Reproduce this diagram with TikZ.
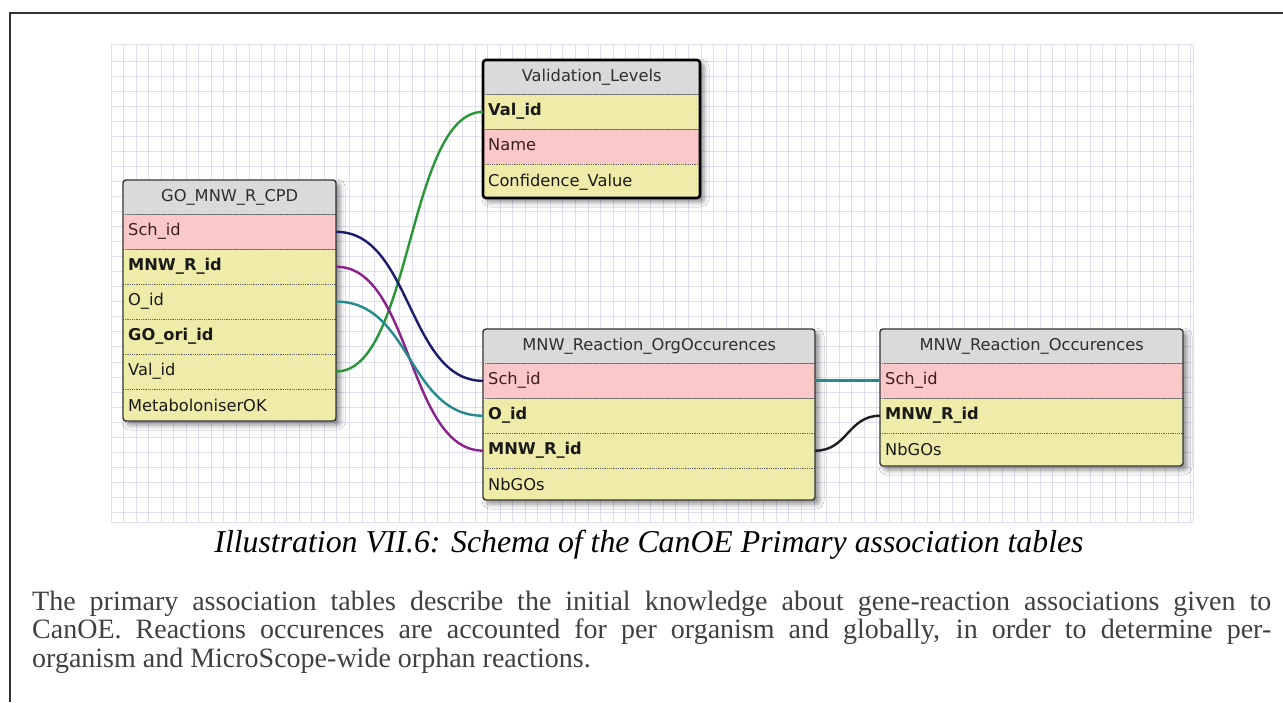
\documentclass[tikz,border=0pt]{standalone}
\usepackage{fontspec}
\setmainfont{Liberation Serif}
\newfontfamily\tblfont{DejaVu Sans}
\usetikzlibrary{shadows.blur}

\definecolor{gridline}{RGB}{222,222,240}
\definecolor{hdrgray}{RGB}{218,218,218}
\definecolor{keypink}{RGB}{250,200,200}
\definecolor{colyellow}{RGB}{238,236,168}
\definecolor{boxedge}{RGB}{55,55,55}
\definecolor{lnnavy}{RGB}{28,28,110}
\definecolor{lnpurple}{RGB}{138,32,140}
\definecolor{lnteal}{RGB}{36,138,140}
\definecolor{lngreen}{RGB}{40,150,52}
\definecolor{lnblack}{RGB}{30,30,30}
\definecolor{bodygray}{RGB}{64,64,64}
\definecolor{pinktext}{RGB}{60,30,30}
\definecolor{framegray}{RGB}{50,50,50}

\tikzset{
  x=1pt, y=-1pt,
  cell/.style={rectangle, anchor=north west, inner xsep=5pt, inner ysep=0pt,
    text height=12pt, text depth=4pt, minimum height=34.5pt, align=left,
    font=\tblfont\fontsize{16.25}{19}\selectfont, text=black!90},
  hdr/.style={cell, fill=hdrgray, align=center, minimum height=34pt, text=black!82},
  pk/.style={cell, fill=keypink, text=pinktext},
  fld/.style={cell, fill=colyellow},
  key/.style={fld, font=\tblfont\bfseries\fontsize{16.25}{19}\selectfont},
  divider/.style={densely dotted, line width=0.8pt, black!60},
  tblframe/.style={draw=boxedge, line width=1.4pt, rounded corners=3pt},
  selframe/.style={draw=black, line width=2.6pt, rounded corners=3pt},
  tblshadow/.style={blur shadow={shadow xshift=4pt, shadow yshift=-4pt,
    shadow blur radius=5pt, shadow opacity=45}, rounded corners=3pt},
  link/.style={line width=2.4pt},
  gridln/.style={gridline, line width=1pt},
}

\begin{document}
\begin{tikzpicture}
\useasboundingbox (0,0) rectangle (1283,702);
\fill[white] (0,0) rectangle (1283,702);

% page frame
\draw[framegray, line width=2.4pt] (1283,13) -- (10,13) -- (10,702);

% background grid
\foreach \i in {0,...,86}
  \draw[gridln] ({111+12.555*\i},44) -- ({111+12.555*\i},522);
\foreach \j in {0,...,30}
  \draw[gridln] (111,{61+15.05*\j}) -- (1193,{61+15.05*\j});
\draw[gridln] (111,44) rectangle (1193,522);

% ---- GO_MNW_R_CPD ----
\path[tblshadow] (123,180) rectangle (336,421);
\begin{scope}
  \clip[rounded corners=3pt] (123,180) rectangle (336,421);
  \node[hdr, text width=203pt] (go) at (123,180) {GO\_MNW\_R\_CPD};
  \node[pk,  text width=203pt] (go-sch) at (go.south west) {Sch\_id};
  \node[key, text width=203pt] (go-mnw) at (go-sch.south west) {MNW\_R\_id};
  \node[fld, text width=203pt] (go-o) at (go-mnw.south west) {O\_id};
  \node[key, text width=203pt] (go-ori) at (go-o.south west) {GO\_ori\_id};
  \node[fld, text width=203pt] (go-val) at (go-ori.south west) {Val\_id};
  \node[fld, text width=203pt, minimum height=36pt] (go-met) at (go-val.south west) {MetaboloniserOK};
\end{scope}
\foreach \r in {go,go-sch,go-mnw,go-o,go-ori,go-val}
  \draw[divider] (\r.south west) -- (\r.south east);
\draw[tblframe] (123,180) rectangle (336,421);

% ---- Validation_Levels ----
\path[tblshadow] (483,60) rectangle (700,198);
\begin{scope}
  \clip[rounded corners=3pt] (483,60) rectangle (700,198);
  \node[hdr, text width=207pt] (vl) at (483,60) {Validation\_Levels};
  \node[key, text width=207pt] (vl-val) at (vl.south west) {Val\_id};
  \node[pk,  text width=207pt] (vl-name) at (vl-val.south west) {Name};
  \node[fld, text width=207pt, minimum height=36pt] (vl-conf) at (vl-name.south west) {Confidence\_Value};
\end{scope}
\foreach \r in {vl,vl-val,vl-name}
  \draw[divider] (\r.south west) -- (\r.south east);
\draw[selframe] (483,60) rectangle (700,198);

% ---- MNW_Reaction_OrgOccurences ----
\path[tblshadow] (483,329) rectangle (815,500);
\begin{scope}
  \clip[rounded corners=3pt] (483,329) rectangle (815,500);
  \node[hdr, text width=322pt] (org) at (483,329) {MNW\_Reaction\_OrgOccurences};
  \node[pk,  text width=322pt] (org-sch) at (org.south west) {Sch\_id};
  \node[key, text width=322pt] (org-o) at (org-sch.south west) {O\_id};
  \node[key, text width=322pt] (org-mnw) at (org-o.south west) {MNW\_R\_id};
  \node[fld, text width=322pt, minimum height=36pt] (org-nb) at (org-mnw.south west) {NbGOs};
\end{scope}
\foreach \r in {org,org-sch,org-o,org-mnw}
  \draw[divider] (\r.south west) -- (\r.south east);
\draw[tblframe] (483,329) rectangle (815,500);

% ---- MNW_Reaction_Occurences ----
\path[tblshadow] (880,329) rectangle (1183,466);
\begin{scope}
  \clip[rounded corners=3pt] (880,329) rectangle (1183,466);
  \node[hdr, text width=293pt] (occ) at (880,329) {MNW\_Reaction\_Occurences};
  \node[pk,  text width=293pt] (occ-sch) at (occ.south west) {Sch\_id};
  \node[key, text width=293pt] (occ-mnw) at (occ-sch.south west) {MNW\_R\_id};
  \node[fld, text width=293pt, minimum height=36pt] (occ-nb) at (occ-mnw.south west) {NbGOs};
\end{scope}
\foreach \r in {occ,occ-sch,occ-mnw}
  \draw[divider] (\r.south west) -- (\r.south east);
\draw[tblframe] (880,329) rectangle (1183,466);

% ---- relations ----
\draw[link, lngreen]  (go-val.east) .. controls +(75,0) and +(-75,0) .. (vl-val.west);
\draw[link, lnnavy]   (go-sch.east) .. controls +(75,0) and +(-75,0) .. (org-sch.west);
\draw[link, lnpurple] (go-mnw.east) .. controls +(75,0) and +(-75,0) .. (org-mnw.west);
\draw[link, lnteal]   (go-o.east)   .. controls +(75,0) and +(-75,0) .. (org-o.west);
\draw[link, lnteal, line width=2.8pt] (org-sch.east) -- (occ-sch.west);
\draw[link, lnblack]  (org-mnw.east) .. controls +(32,0) and +(-32,0) .. (occ-mnw.west);

% ---- caption and paragraph ----
\node[anchor=base, inner sep=0pt, font=\itshape\fontsize{31.8}{38}\selectfont] (cap) at (649,552)
  {Illustration VII.6: Schema of the CanOE Primary association tables};
\begin{scope}[every node/.style={anchor=base west, inner sep=0pt, text=bodygray,
    font=\fontsize{28}{32}\selectfont}]
  \node (l1) at (32,610) {\makebox[1239pt][s]{The primary association tables describe the initial knowledge about gene-reaction associations given to}};
  \node (l2) at (32,638.5) {\makebox[1239pt][s]{CanOE. Reactions occurences are accounted for per organism and globally, in order to determine per-}};
  \node (l3) at (32,667) {organism and MicroScope-wide orphan reactions.};
\end{scope}
\end{tikzpicture}
\end{document}
